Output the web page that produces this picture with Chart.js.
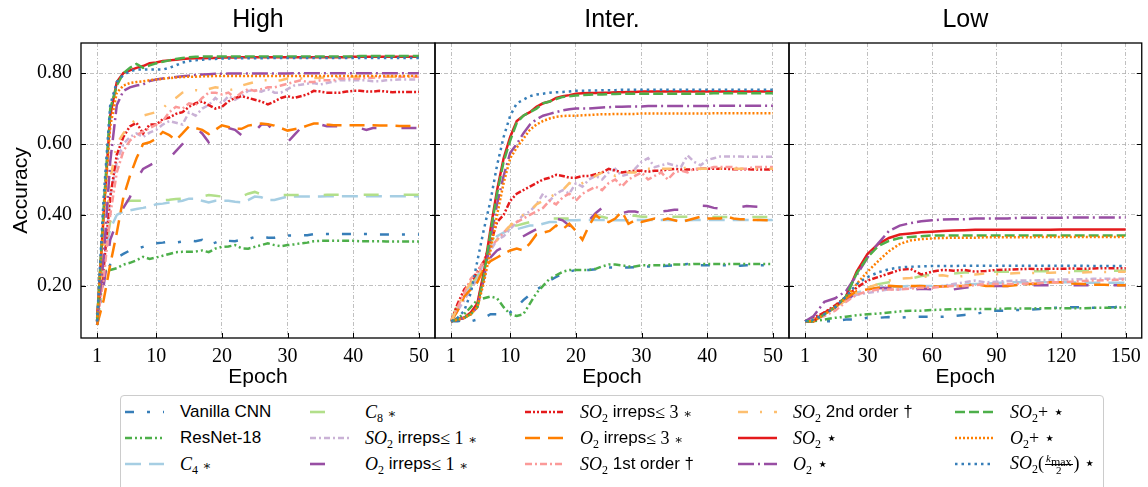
<!DOCTYPE html>
<html>
<head>
<meta charset="utf-8">
<script src="https://cdn.jsdelivr.net/npm/chart.js@4.4.1/dist/chart.umd.min.js"></script>
<style>
  html, body { margin: 0; padding: 0; background: #fff; width: 1148px; height: 487px; overflow: hidden; }
  canvas { position: absolute; top: 0; }
  #legend { position: absolute; left: 120px; top: 395px; width: 984px; height: 110px; border: 1px solid #cccccc; border-radius: 4px; box-sizing: border-box; background: #fff; }
  .item { position: absolute; height: 26px; display: flex; align-items: center; white-space: nowrap; font: 17px 'Liberation Sans', sans-serif; color: #000; }
  .item svg { margin-right: 16px; flex: none; }
  .m { font-family: 'Liberation Serif', serif; font-size: 18px; }
  .m sub { font-size: 12px; vertical-align: -4px; line-height: 0; font-style: normal; }
  .ast { font-family: 'DejaVu Serif', serif; font-size: 13px; font-weight: 300; }
  .frac { display: inline-flex; flex-direction: column; vertical-align: middle; font-size: 11px; line-height: 11px; text-align: center; margin: 0 1px; }
  .frac span:first-child { border-bottom: 1px solid #000; padding: 0 1px; }
</style>
</head>
<body>
<canvas id="cHigh" width="440" height="395" style="left:0px"></canvas>
<canvas id="cInter" width="365" height="395" style="left:430px"></canvas>
<canvas id="cLow" width="364" height="395" style="left:784px"></canvas>
<div id="legend"></div>
<script>
// epochs
const epochsHigh = [1,2,3,4,5,6,7,8,9,10,11,12,13,14,15,16,17,18,19,20,21,22,23,24,25,26,27,28,29,30,31,32,33,34,35,36,37,38,39,40,41,42,43,44,45,46,47,48,49,50];
const epochsInter = epochsHigh;
const epochsLow = [1,5,10,15,20,25,30,35,40,45,50,55,60,65,70,75,80,85,90,95,100,105,110,115,120,125,130,135,140,145,150];
const ticks50 = [1,10,20,30,40,50];
const ticks150 = [1,30,60,90,120,150];
const yTicks = [0.2,0.4,0.6,0.8];

const names = ['Vanilla CNN','ResNet-18','C4 ∗','C8 ∗','SO2 irreps≤1 ∗','O2 irreps≤1 ∗','SO2 irreps≤3 ∗','O2 irreps≤3 ∗',
  'SO2 1st order †','SO2 2nd order †','SO2 ⋆','O2 ⋆','SO2+ ⋆','O2+ ⋆','SO2(kmax/2) ⋆'];
const colors = ['#377eb8','#4daf4a','#a6cee3','#b2df8a','#cab2d6','#984ea3','#e41a1c','#ff7f00',
  '#fb9a99','#fdbf6f','#e41a1c','#984ea3','#4daf4a','#ff7f00','#377eb8'];
const dashes = [[9,13,3,13],[7,3,2,3,2,3],[16,8],[15,25],[6,3,2,3],[15,25],[6,2,2,2,2,2],[15,8],
  [7,3,2,3],[10,12,2,12],[],[16,4,2,4],[10,4],[2,2],[2.5,4]];
const AST = '<span class="ast">∗</span>';
const legendLabels = [
  'Vanilla CNN',
  'ResNet-18',
  '<span class="m"><i>C</i><sub>4</sub> ' + AST + '</span>',
  '<span class="m"><i>C</i><sub>8</sub> ' + AST + '</span>',
  '<span class="m"><i>SO</i><sub>2</sub></span>&nbsp;irreps<span class="m">≤ 1 ' + AST + '</span>',
  '<span class="m"><i>O</i><sub>2</sub></span>&nbsp;irreps<span class="m">≤ 1 ' + AST + '</span>',
  '<span class="m"><i>SO</i><sub>2</sub></span>&nbsp;irreps<span class="m">≤ 3 ' + AST + '</span>',
  '<span class="m"><i>O</i><sub>2</sub></span>&nbsp;irreps<span class="m">≤ 3 ' + AST + '</span>',
  '<span class="m"><i>SO</i><sub>2</sub></span>&nbsp;1st order †',
  '<span class="m"><i>SO</i><sub>2</sub></span>&nbsp;2nd order †',
  '<span class="m"><i>SO</i><sub>2</sub> ⋆</span>',
  '<span class="m"><i>O</i><sub>2</sub> ⋆</span>',
  '<span class="m"><i>SO</i><sub>2</sub>+ ⋆</span>',
  '<span class="m"><i>O</i><sub>2</sub>+ ⋆</span>',
  '<span class="m"><i>SO</i><sub>2</sub>(<span class="frac"><span><i>k<sub>max</sub></i></span><span>2</span></span>) ⋆</span>'
];

// ---- High ----
const vanillaHigh = [0.09,0.22,0.26,0.28,0.29,0.30,0.305,0.31,0.315,0.32,
  0.322,0.325,0.322,0.325,0.328,0.326,0.33,0.316,0.322,0.33,
  0.327,0.326,0.33,0.332,0.338,0.34,0.336,0.336,0.34,0.342,
  0.342,0.343,0.343,0.346,0.346,0.346,0.346,0.346,0.346,0.346,
  0.346,0.346,0.346,0.345,0.345,0.345,0.345,0.345,0.345,0.345];
const resnetHigh = [0.09,0.24,0.245,0.25,0.26,0.265,0.272,0.282,0.276,0.28,
  0.285,0.29,0.295,0.296,0.296,0.297,0.30,0.295,0.305,0.31,
  0.311,0.315,0.306,0.305,0.31,0.315,0.32,0.315,0.312,0.315,
  0.317,0.32,0.322,0.326,0.327,0.327,0.327,0.327,0.327,0.327,
  0.326,0.326,0.326,0.326,0.325,0.325,0.325,0.325,0.325,0.325];
const c4High = [0.11,0.28,0.36,0.40,0.41,0.413,0.417,0.42,0.424,0.43,
  0.432,0.435,0.437,0.44,0.446,0.446,0.44,0.435,0.44,0.44,
  0.44,0.437,0.436,0.442,0.452,0.45,0.442,0.442,0.447,0.452,
  0.452,0.452,0.452,0.452,0.452,0.453,0.453,0.453,0.453,0.453,
  0.453,0.453,0.453,0.453,0.453,0.453,0.453,0.453,0.453,0.453];
const c8High = [0.12,0.28,0.38,0.42,0.435,0.44,0.44,0.44,0.44,0.441,
  0.442,0.443,0.445,0.446,0.449,0.45,0.452,0.456,0.454,0.452,
  0.45,0.447,0.452,0.46,0.465,0.458,0.455,0.455,0.456,0.456,
  0.456,0.456,0.456,0.456,0.456,0.457,0.457,0.457,0.457,0.457,
  0.457,0.457,0.457,0.457,0.457,0.457,0.457,0.457,0.457,0.457];
const so2irr1High = [0.10,0.25,0.45,0.55,0.60,0.62,0.63,0.62,0.632,0.64,
  0.655,0.665,0.66,0.655,0.69,0.68,0.70,0.71,0.73,0.715,
  0.735,0.725,0.735,0.75,0.752,0.748,0.755,0.745,0.745,0.755,
  0.765,0.767,0.77,0.772,0.768,0.772,0.776,0.78,0.78,0.78,
  0.78,0.78,0.777,0.777,0.78,0.781,0.782,0.782,0.782,0.782];
const o2irr1High = [0.09,0.20,0.33,0.38,0.42,0.45,0.50,0.53,0.54,0.55,
  0.545,0.56,0.58,0.60,0.625,0.645,0.63,0.605,0.625,0.645,
  0.645,0.64,0.625,0.61,0.635,0.655,0.655,0.635,0.615,0.605,
  0.625,0.645,0.655,0.658,0.655,0.65,0.65,0.65,0.65,0.65,
  0.645,0.64,0.645,0.645,0.645,0.645,0.645,0.645,0.645,0.645];
const so2irr3High = [0.12,0.25,0.45,0.57,0.62,0.65,0.66,0.63,0.655,0.655,
  0.67,0.675,0.685,0.69,0.705,0.715,0.72,0.71,0.70,0.705,
  0.72,0.73,0.735,0.73,0.725,0.72,0.712,0.72,0.73,0.735,
  0.73,0.735,0.74,0.75,0.748,0.745,0.745,0.745,0.748,0.75,
  0.75,0.748,0.748,0.75,0.748,0.746,0.747,0.747,0.747,0.747];
const o2irr3High = [0.09,0.16,0.26,0.35,0.45,0.51,0.56,0.60,0.605,0.615,
  0.634,0.625,0.611,0.63,0.65,0.645,0.64,0.628,0.64,0.653,
  0.648,0.643,0.643,0.652,0.655,0.658,0.656,0.652,0.645,0.638,
  0.642,0.645,0.652,0.658,0.658,0.655,0.653,0.653,0.653,0.653,
  0.653,0.653,0.653,0.652,0.652,0.652,0.651,0.651,0.651,0.651];
const so2firstHigh = [0.10,0.22,0.40,0.52,0.58,0.61,0.625,0.635,0.645,0.655,
  0.665,0.69,0.705,0.70,0.715,0.71,0.73,0.745,0.745,0.74,
  0.745,0.73,0.745,0.755,0.75,0.755,0.76,0.76,0.765,0.77,
  0.775,0.78,0.775,0.775,0.78,0.78,0.78,0.785,0.785,0.785,
  0.785,0.787,0.787,0.788,0.79,0.79,0.79,0.79,0.79,0.79];
const so2secondHigh = [0.11,0.30,0.50,0.60,0.63,0.655,0.67,0.68,0.685,0.69,
  0.70,0.72,0.73,0.745,0.75,0.752,0.75,0.755,0.76,0.757,
  0.752,0.755,0.765,0.77,0.775,0.78,0.78,0.778,0.78,0.785,
  0.785,0.785,0.786,0.786,0.787,0.788,0.788,0.79,0.79,0.79,
  0.79,0.79,0.79,0.79,0.79,0.79,0.79,0.79,0.79,0.79];
const so2High = [0.10,0.40,0.68,0.775,0.80,0.808,0.815,0.82,0.828,0.83,
  0.834,0.836,0.838,0.84,0.841,0.842,0.842,0.843,0.843,0.844,
  0.844,0.844,0.845,0.845,0.845,0.845,0.845,0.845,0.845,0.845,
  0.845,0.845,0.845,0.845,0.845,0.845,0.845,0.845,0.845,0.846,
  0.846,0.846,0.846,0.846,0.846,0.846,0.846,0.846,0.846,0.846];
const o2High = [0.10,0.28,0.55,0.71,0.75,0.76,0.765,0.768,0.778,0.782,
  0.785,0.787,0.789,0.791,0.793,0.795,0.796,0.797,0.798,0.798,
  0.799,0.799,0.799,0.799,0.799,0.799,0.799,0.799,0.799,0.799,
  0.80,0.80,0.80,0.80,0.80,0.80,0.80,0.80,0.80,0.80,
  0.80,0.80,0.80,0.80,0.80,0.80,0.80,0.80,0.80,0.80];
const so2plusHigh = [0.10,0.42,0.70,0.765,0.80,0.815,0.826,0.815,0.822,0.828,
  0.832,0.836,0.84,0.843,0.845,0.846,0.847,0.847,0.847,0.847,
  0.847,0.847,0.847,0.847,0.847,0.847,0.847,0.847,0.847,0.847,
  0.847,0.847,0.847,0.847,0.847,0.847,0.847,0.847,0.847,0.847,
  0.848,0.848,0.848,0.848,0.848,0.848,0.848,0.848,0.848,0.848];
const o2plusHigh = [0.10,0.40,0.65,0.745,0.765,0.772,0.775,0.777,0.78,0.782,
  0.784,0.786,0.788,0.789,0.79,0.79,0.791,0.791,0.792,0.792,
  0.792,0.792,0.792,0.792,0.792,0.792,0.792,0.792,0.792,0.792,
  0.792,0.792,0.792,0.792,0.792,0.792,0.792,0.792,0.792,0.792,
  0.792,0.792,0.792,0.792,0.792,0.792,0.792,0.792,0.792,0.792];
const so2kHigh = [0.10,0.45,0.71,0.775,0.795,0.805,0.81,0.81,0.81,0.81,
  0.81,0.815,0.822,0.83,0.834,0.836,0.838,0.84,0.84,0.841,
  0.841,0.842,0.842,0.842,0.842,0.842,0.843,0.843,0.843,0.843,
  0.843,0.843,0.843,0.843,0.843,0.843,0.843,0.843,0.843,0.843,
  0.843,0.843,0.843,0.843,0.843,0.843,0.843,0.843,0.843,0.843];

// ---- Inter. ----
const vanillaInter = [0.10,0.10,0.105,0.10,0.105,0.11,0.12,0.12,0.12,0.125,
  0.14,0.16,0.175,0.19,0.20,0.215,0.225,0.235,0.24,0.245,
  0.245,0.245,0.247,0.25,0.252,0.252,0.252,0.252,0.253,0.255,
  0.255,0.255,0.256,0.257,0.258,0.26,0.262,0.26,0.258,0.258,
  0.258,0.258,0.258,0.258,0.257,0.258,0.258,0.258,0.258,0.258];
const resnetInter = [0.10,0.11,0.12,0.14,0.16,0.165,0.17,0.165,0.14,0.12,
  0.115,0.12,0.15,0.18,0.20,0.22,0.23,0.24,0.245,0.245,
  0.245,0.245,0.248,0.255,0.26,0.26,0.258,0.255,0.255,0.258,
  0.258,0.258,0.258,0.26,0.26,0.26,0.26,0.262,0.262,0.262,
  0.262,0.262,0.262,0.262,0.262,0.262,0.262,0.262,0.262,0.262];
const c4Inter = [0.10,0.13,0.17,0.20,0.22,0.27,0.31,0.34,0.35,0.36,
  0.36,0.365,0.37,0.37,0.375,0.38,0.38,0.385,0.385,0.385,
  0.386,0.386,0.386,0.386,0.386,0.385,0.385,0.385,0.386,0.386,
  0.386,0.386,0.386,0.386,0.385,0.385,0.385,0.386,0.386,0.386,
  0.386,0.386,0.386,0.386,0.386,0.386,0.386,0.386,0.386,0.386];
const c8Inter = [0.10,0.15,0.18,0.20,0.23,0.27,0.32,0.35,0.36,0.37,
  0.37,0.375,0.38,0.38,0.385,0.39,0.39,0.39,0.39,0.385,
  0.385,0.39,0.395,0.395,0.39,0.39,0.392,0.398,0.398,0.395,
  0.395,0.395,0.395,0.395,0.395,0.395,0.395,0.395,0.395,0.395,
  0.394,0.394,0.394,0.394,0.394,0.394,0.394,0.394,0.394,0.394];
const so2irr1Inter = [0.10,0.13,0.16,0.19,0.22,0.27,0.30,0.33,0.34,0.36,
  0.38,0.40,0.41,0.43,0.46,0.44,0.46,0.47,0.46,0.49,
  0.48,0.50,0.51,0.50,0.52,0.53,0.51,0.515,0.53,0.55,
  0.56,0.535,0.54,0.545,0.54,0.535,0.568,0.55,0.54,0.555,
  0.56,0.565,0.565,0.565,0.565,0.564,0.564,0.564,0.564,0.564];
const o2irr1Inter = [0.10,0.105,0.11,0.13,0.15,0.23,0.28,0.30,0.31,0.32,
  0.33,0.34,0.35,0.36,0.375,0.385,0.39,0.385,0.37,0.365,
  0.36,0.385,0.405,0.42,0.41,0.40,0.405,0.41,0.41,0.405,
  0.405,0.408,0.41,0.412,0.415,0.415,0.418,0.42,0.426,0.425,
  0.42,0.418,0.418,0.42,0.422,0.425,0.424,0.423,0.423,0.423];
const so2irr3Inter = [0.10,0.15,0.19,0.21,0.24,0.27,0.32,0.38,0.40,0.44,
  0.46,0.47,0.48,0.49,0.50,0.505,0.513,0.51,0.505,0.505,
  0.51,0.51,0.515,0.52,0.53,0.525,0.52,0.523,0.525,0.525,
  0.522,0.525,0.525,0.528,0.53,0.528,0.528,0.528,0.53,0.53,
  0.53,0.53,0.53,0.529,0.529,0.529,0.528,0.528,0.528,0.528];
const o2irr3Inter = [0.10,0.13,0.17,0.19,0.21,0.25,0.27,0.28,0.29,0.30,
  0.305,0.30,0.32,0.345,0.35,0.355,0.37,0.36,0.375,0.355,
  0.33,0.37,0.40,0.385,0.38,0.39,0.41,0.375,0.385,0.38,
  0.385,0.39,0.385,0.39,0.385,0.38,0.385,0.39,0.395,0.39,
  0.39,0.39,0.395,0.39,0.388,0.388,0.386,0.386,0.385,0.385];
const so2firstInter = [0.10,0.14,0.18,0.22,0.24,0.27,0.31,0.33,0.35,0.37,
  0.38,0.39,0.40,0.41,0.42,0.44,0.43,0.45,0.46,0.44,
  0.46,0.47,0.48,0.47,0.49,0.50,0.48,0.50,0.51,0.52,
  0.50,0.51,0.52,0.50,0.52,0.525,0.52,0.53,0.53,0.53,
  0.535,0.535,0.535,0.535,0.53,0.53,0.535,0.535,0.535,0.535];
const so2secondInter = [0.10,0.14,0.18,0.21,0.22,0.27,0.30,0.33,0.35,0.37,
  0.39,0.40,0.41,0.43,0.44,0.45,0.46,0.47,0.49,0.48,
  0.49,0.50,0.51,0.52,0.52,0.51,0.52,0.52,0.52,0.53,
  0.53,0.53,0.53,0.53,0.53,0.53,0.535,0.53,0.53,0.53,
  0.53,0.53,0.53,0.53,0.53,0.53,0.53,0.53,0.53,0.53];
const so2Inter = [0.10,0.105,0.11,0.125,0.15,0.24,0.36,0.47,0.56,0.62,
  0.665,0.68,0.69,0.705,0.715,0.72,0.73,0.735,0.738,0.742,
  0.743,0.744,0.744,0.745,0.745,0.746,0.746,0.747,0.747,0.748,
  0.748,0.748,0.748,0.748,0.748,0.748,0.748,0.748,0.748,0.748,
  0.748,0.748,0.748,0.748,0.748,0.748,0.748,0.748,0.748,0.748];
const o2Inter = [0.10,0.105,0.11,0.12,0.14,0.22,0.33,0.43,0.51,0.575,
  0.60,0.63,0.655,0.67,0.68,0.685,0.69,0.695,0.698,0.70,
  0.70,0.70,0.702,0.703,0.704,0.705,0.705,0.706,0.706,0.706,
  0.707,0.707,0.707,0.707,0.707,0.707,0.707,0.707,0.707,0.707,
  0.708,0.708,0.708,0.708,0.708,0.708,0.708,0.708,0.708,0.708];
const so2plusInter = [0.10,0.105,0.11,0.12,0.14,0.23,0.35,0.46,0.55,0.61,
  0.66,0.68,0.69,0.70,0.715,0.72,0.727,0.733,0.735,0.737,
  0.738,0.739,0.74,0.74,0.741,0.741,0.742,0.742,0.742,0.742,
  0.742,0.742,0.742,0.742,0.742,0.742,0.742,0.742,0.742,0.742,
  0.743,0.743,0.743,0.743,0.743,0.743,0.743,0.743,0.743,0.743];
const o2plusInter = [0.10,0.105,0.11,0.12,0.14,0.21,0.30,0.40,0.49,0.56,
  0.59,0.615,0.64,0.655,0.665,0.672,0.677,0.679,0.68,0.68,
  0.681,0.682,0.683,0.684,0.684,0.685,0.685,0.685,0.685,0.686,
  0.686,0.686,0.686,0.686,0.686,0.686,0.686,0.686,0.686,0.686,
  0.687,0.687,0.687,0.687,0.687,0.687,0.687,0.687,0.687,0.687];
const so2kInter = [0.10,0.11,0.13,0.18,0.27,0.36,0.44,0.54,0.62,0.68,
  0.715,0.725,0.735,0.74,0.742,0.745,0.746,0.747,0.748,0.75,
  0.75,0.751,0.751,0.752,0.752,0.752,0.753,0.753,0.753,0.753,
  0.753,0.753,0.753,0.753,0.753,0.753,0.753,0.753,0.753,0.753,
  0.753,0.753,0.753,0.753,0.753,0.753,0.753,0.753,0.753,0.753];

// ---- Low ----
const vanillaLow = [0.10,0.10,0.10,0.10,0.105,0.105,0.11,0.11,0.112,0.11,0.113,0.113,0.113,0.113,0.115,0.118,0.12,0.128,0.13,0.13,0.132,0.133,0.135,0.138,0.138,0.14,0.14,0.138,0.14,0.14,0.148];
const resnetLow = [0.10,0.10,0.105,0.11,0.113,0.117,0.12,0.122,0.125,0.128,0.13,0.13,0.132,0.133,0.134,0.135,0.135,0.135,0.135,0.136,0.136,0.136,0.137,0.137,0.137,0.137,0.137,0.138,0.138,0.138,0.14];
const c4Low = [0.10,0.105,0.12,0.14,0.16,0.18,0.19,0.195,0.197,0.198,0.20,0.20,0.20,0.20,0.202,0.204,0.205,0.206,0.208,0.21,0.21,0.21,0.21,0.21,0.21,0.21,0.209,0.209,0.209,0.209,0.209];
const c8Low = [0.10,0.105,0.12,0.14,0.165,0.185,0.195,0.205,0.21,0.215,0.22,0.228,0.232,0.235,0.235,0.238,0.238,0.239,0.24,0.24,0.24,0.241,0.241,0.241,0.242,0.242,0.242,0.243,0.243,0.243,0.243];
const so2irr1Low = [0.10,0.105,0.12,0.14,0.16,0.175,0.18,0.185,0.19,0.19,0.195,0.20,0.195,0.20,0.205,0.21,0.215,0.21,0.212,0.214,0.215,0.215,0.216,0.217,0.218,0.218,0.219,0.22,0.22,0.22,0.22];
const o2irr1Low = [0.10,0.105,0.12,0.14,0.16,0.18,0.19,0.193,0.195,0.19,0.188,0.192,0.19,0.175,0.19,0.195,0.198,0.198,0.20,0.20,0.20,0.202,0.202,0.202,0.202,0.202,0.202,0.202,0.202,0.202,0.202];
const so2irr3Low = [0.10,0.11,0.125,0.145,0.17,0.195,0.215,0.225,0.235,0.245,0.248,0.232,0.24,0.245,0.243,0.245,0.24,0.242,0.245,0.246,0.247,0.248,0.247,0.248,0.248,0.249,0.248,0.249,0.25,0.25,0.25];
const o2irr3Low = [0.10,0.105,0.12,0.14,0.165,0.185,0.19,0.195,0.20,0.198,0.20,0.20,0.198,0.198,0.20,0.20,0.205,0.20,0.20,0.20,0.203,0.205,0.207,0.21,0.21,0.207,0.205,0.203,0.203,0.202,0.202];
const so2firstLow = [0.10,0.105,0.115,0.13,0.155,0.175,0.185,0.19,0.19,0.19,0.192,0.195,0.195,0.198,0.20,0.20,0.202,0.205,0.205,0.205,0.206,0.207,0.208,0.21,0.21,0.212,0.214,0.215,0.216,0.217,0.218];
const so2secondLow = [0.10,0.105,0.12,0.14,0.16,0.18,0.195,0.205,0.215,0.22,0.222,0.225,0.228,0.23,0.225,0.228,0.232,0.235,0.233,0.235,0.236,0.236,0.237,0.237,0.238,0.238,0.238,0.239,0.239,0.24,0.24];
const so2Low = [0.10,0.10,0.125,0.14,0.17,0.24,0.29,0.318,0.335,0.345,0.348,0.351,0.353,0.355,0.356,0.357,0.358,0.358,0.358,0.358,0.358,0.358,0.358,0.358,0.359,0.359,0.359,0.359,0.359,0.359,0.359];
const o2Low = [0.10,0.115,0.155,0.165,0.185,0.23,0.28,0.32,0.355,0.37,0.377,0.382,0.385,0.387,0.388,0.388,0.39,0.39,0.39,0.39,0.392,0.392,0.392,0.392,0.392,0.393,0.393,0.393,0.393,0.393,0.393];
const so2plusLow = [0.10,0.10,0.12,0.14,0.17,0.235,0.28,0.312,0.327,0.335,0.338,0.34,0.342,0.342,0.342,0.342,0.342,0.342,0.342,0.342,0.342,0.342,0.342,0.342,0.342,0.342,0.342,0.342,0.342,0.342,0.342];
const o2plusLow = [0.10,0.10,0.12,0.14,0.165,0.205,0.24,0.27,0.298,0.318,0.328,0.332,0.334,0.335,0.336,0.336,0.336,0.337,0.337,0.337,0.337,0.337,0.338,0.338,0.338,0.338,0.338,0.338,0.338,0.338,0.338];
const so2kLow = [0.10,0.105,0.12,0.14,0.17,0.205,0.225,0.238,0.247,0.252,0.254,0.255,0.256,0.256,0.256,0.257,0.257,0.257,0.257,0.257,0.257,0.257,0.257,0.257,0.257,0.257,0.257,0.256,0.256,0.256,0.256];

const highSeries = [vanillaHigh, resnetHigh, c4High, c8High, so2irr1High, o2irr1High, so2irr3High, o2irr3High,
  so2firstHigh, so2secondHigh, so2High, o2High, so2plusHigh, o2plusHigh, so2kHigh];
const interSeries = [vanillaInter, resnetInter, c4Inter, c8Inter, so2irr1Inter, o2irr1Inter, so2irr3Inter, o2irr3Inter,
  so2firstInter, so2secondInter, so2Inter, o2Inter, so2plusInter, o2plusInter, so2kInter];
const lowSeries = [vanillaLow, resnetLow, c4Low, c8Low, so2irr1Low, o2irr1Low, so2irr3Low, o2irr3Low,
  so2firstLow, so2secondLow, so2Low, o2Low, so2plusLow, o2plusLow, so2kLow];

const SANS = "'Liberation Sans', sans-serif";
const SERIF = "'Liberation Serif', serif";

/* black frame + inward ticks, like the matplotlib spines */
const frame = {
  id: 'frame',
  afterDraw(chart) {
    const { ctx, chartArea: a, scales: { x, y } } = chart;
    ctx.save();
    ctx.strokeStyle = '#000';
    ctx.lineWidth = 1;
    ctx.beginPath();
    y.ticks.forEach(t => {
      const py = Math.round(y.getPixelForValue(t.value)) + 0.5;
      ctx.moveTo(a.left, py); ctx.lineTo(a.left + 5, py);
      ctx.moveTo(a.right, py); ctx.lineTo(a.right - 5, py);
    });
    x.ticks.forEach(t => {
      const px = Math.round(x.getPixelForValue(t.value)) + 0.5;
      ctx.moveTo(px, a.bottom); ctx.lineTo(px, a.bottom - 5);
    });
    ctx.stroke();
    ctx.lineWidth = 1.3;
    ctx.strokeRect(a.left, a.top, a.right - a.left, a.bottom - a.top);
    ctx.restore();
  }
};

function panel(id, title, epochs, series, xTicks, xMin, xMax, yWidth, padRight, showY) {
  return new Chart(document.getElementById(id), {
    type: 'line',
    data: {
      labels: epochs,
      datasets: series.map((vals, i) => ({
        label: names[i], data: vals, borderColor: colors[i], borderDash: dashes[i],
        borderWidth: 2.5, pointRadius: 0, tension: 0, fill: false, order: series.length - i
      }))
    },
    options: {
      responsive: false, animation: false, events: [],
      layout: { padding: { left: 0, right: padRight, top: 0, bottom: 0 } },
      plugins: {
        legend: { display: false }, tooltip: { enabled: false },
        title: { display: true, text: title, fullSize: false, color: '#000',
          font: { family: SANS, size: 25, weight: 'normal' }, padding: { top: 5, bottom: 8 } }
      },
      scales: {
        x: {
          type: 'linear', min: xMin, max: xMax,
          afterBuildTicks: s => { s.ticks = xTicks.map(v => ({ value: v })); },
          afterFit: s => { s.height = 57; },
          ticks: { color: '#000', font: { family: SERIF, size: 20 }, padding: 7, maxRotation: 0, autoSkip: false, callback: v => String(v) },
          grid: { color: '#b0b0b0', lineWidth: 0.8, drawTicks: false },
          border: { display: false, dash: [4, 2, 1, 2] },
          title: { display: true, text: 'Epoch', color: '#000', font: { family: SANS, size: 21 }, padding: { top: 0, bottom: 5 } }
        },
        y: {
          min: 0.053, max: 0.885,
          afterBuildTicks: s => { s.ticks = yTicks.map(v => ({ value: v })); },
          afterFit: s => { s.width = yWidth; },
          ticks: { display: showY, color: '#000', font: { family: SERIF, size: 20 }, padding: 9, callback: v => v.toFixed(2) },
          grid: { color: '#b0b0b0', lineWidth: 0.8, drawTicks: false },
          border: { display: false, dash: [4, 2, 1, 2] },
          title: { display: showY, text: 'Accuracy', color: '#000', font: { family: SANS, size: 21 }, padding: { top: 9, bottom: 0 } }
        }
      }
    },
    plugins: [frame]
  });
}

panel('cHigh', 'High', epochsHigh, highSeries, ticks50, -1.45, 52.45, 81, 5, true);
panel('cInter', 'Inter.', epochsInter, interSeries, ticks50, -1.45, 52.45, 5, 6, false);
panel('cLow', 'Low', epochsLow, lowSeries, ticks150, -6.45, 157.45, 5, 5, false);

// legend, filled column by column like matplotlib's ncol=5
const colX = [125, 310, 525, 738, 955];
const rowY = [399, 425, 451];
legendLabels.forEach((html, k) => {
  const col = Math.floor(k / 3), row = k % 3;
  const d = document.createElement('div');
  d.className = 'item';
  d.style.left = colX[col] + 'px';
  d.style.top = rowY[row] + 'px';
  const dash = dashes[k].length ? dashes[k].join(' ') : 'none';
  d.innerHTML = `<svg width="39" height="8"><line x1="0" y1="4" x2="39" y2="4" stroke="${colors[k]}" stroke-width="2.6" stroke-dasharray="${dash}"/></svg>${html}`;
  document.body.appendChild(d);
});
</script>
</body>
</html>
